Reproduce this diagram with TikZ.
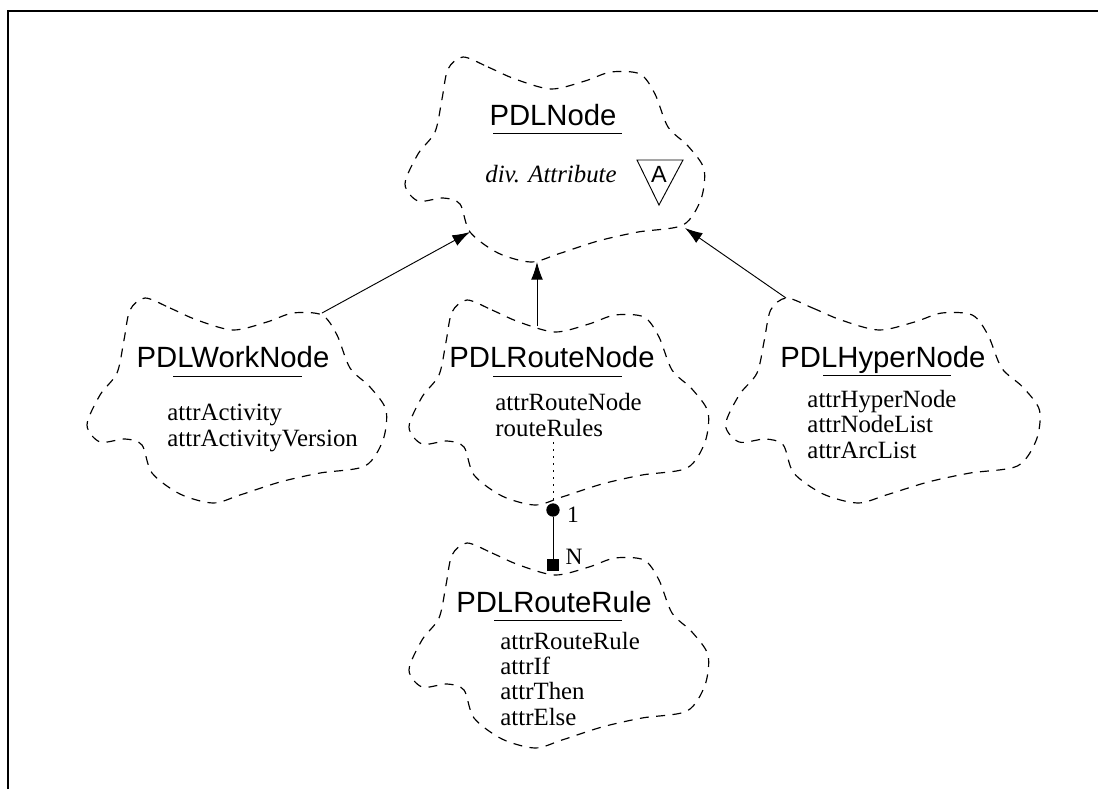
\documentclass[tikz,border=0pt]{standalone}
\usepackage{fontspec}
\setmainfont{Liberation Serif}
\setsansfont{Liberation Sans}
\usetikzlibrary{arrows.meta}

\tikzset{
  pics/classcloud/.style={code={
    \draw[cloudline] plot[smooth cycle] coordinates {
      (-92,-102) (-67,-92) (-40,-80) (-4,-70) (30,-78) (56,-87) (85,-85)
      (100,-65) (113,-32) (133,-13) (149,10) (146,40) (128,66) (83,73)
      (43,82) (3,95) (-24,103) (-57,94) (-85,73) (-95,45) (-112,39)
      (-137,42) (-150,25) (-137,-5) (-120,-27) (-113,-60) (-107,-90)};
  }},
}

\begin{document}
\begin{tikzpicture}[x=0.015cm,y=-0.015cm,>={Latex[length=7.5pt,width=5pt]},
  cloudline/.style={dash pattern=on 3.8pt off 3.2pt, line width=0.5pt},
  classname/.style={font=\sffamily\fontsize{12.5}{15}\selectfont, inner sep=0pt, anchor=base},
  attrs/.style={font=\fontsize{10.6}{10.7}\selectfont, align=left, inner sep=0pt, anchor=base west},
  card/.style={font=\fontsize{10}{12}\selectfont, inner sep=0pt}]
  \useasboundingbox (0,0) rectangle (1098,789);
  \draw[line width=1.2pt] (8,789) -- (8,11) -- (1098,11);

  % clouds
  \pic at (555,159) {classcloud};
  \pic at (237,400) {classcloud};
  \pic at (559,402) {classcloud};
  \pic[xscale=1.05] at (883,400) {classcloud};
  \pic at (559,645) {classcloud};

  % PDLNode
  \node (top) [classname] at (553,125) {PDLNode};
  \draw (493,133) -- (622,133);
  \node (divattr) [font=\itshape\fontsize{10.6}{12}\selectfont, inner sep=0pt, anchor=base] at (551,182) {div. Attribute};
  \draw (637,160) -- (683,160) -- (659,205) -- cycle;
  \node (abstract) [font=\sffamily\fontsize{10}{12}\selectfont, inner sep=0pt] at (659,174) {A};

  % PDLWorkNode (attrs placed by last baseline)
  \node (work) [classname] at (233,367) {PDLWorkNode};
  \draw (173,376) -- (302,376);
  \node (workattr) [attrs] at (167,446) {attrActivity\\attrActivityVersion};

  % PDLRouteNode
  \node (route) [classname] at (552,367) {PDLRouteNode};
  \draw (493,376) -- (622,376);
  \node (routeattr) [attrs] at (495,436) {attrRouteNode\\routeRules};

  % PDLHyperNode
  \node (hyper) [classname] at (883,367) {PDLHyperNode};
  \draw (823,375) -- (951,375);
  \node (hyperattr) [attrs] at (807,458) {attrHyperNode\\attrNodeList\\attrArcList};

  % PDLRouteRule
  \node (rule) [classname] at (554,612) {PDLRouteRule};
  \draw (494,620) -- (622,620);
  \node (ruleattr) [attrs] at (500,725) {attrRouteRule\\attrIf\\attrThen\\attrElse};

  % inheritance
  \coordinate (top-sw) at (470,232);
  \coordinate (top-s) at (537,262);
  \coordinate (top-se) at (685,228);
  \coordinate (work-ne) at (322,313);
  \coordinate (route-n) at (537,326);
  \coordinate (hyper-nw) at (786,298);
  \draw[->] (work-ne) -- (top-sw);
  \draw[->] (route-n) -- (top-s);
  \draw[->] (hyper-nw) -- (top-se);

  % aggregation 1:N
  \coordinate (route-rules) at (553,442);
  \node (one) [circle, fill, inner sep=0pt, minimum size=0.2cm] at (553,510) {};
  \node (many) [fill, inner sep=0pt, minimum size=0.18cm] at (553,565) {};
  \draw[dash pattern=on 0.8pt off 2.2pt] (route-rules) -- (one);
  \draw (one) -- (many);
  \node (onelabel) [card] at (573,515) {1};
  \node (manylabel) [card] at (574,557) {N};
\end{tikzpicture}
\end{document}
